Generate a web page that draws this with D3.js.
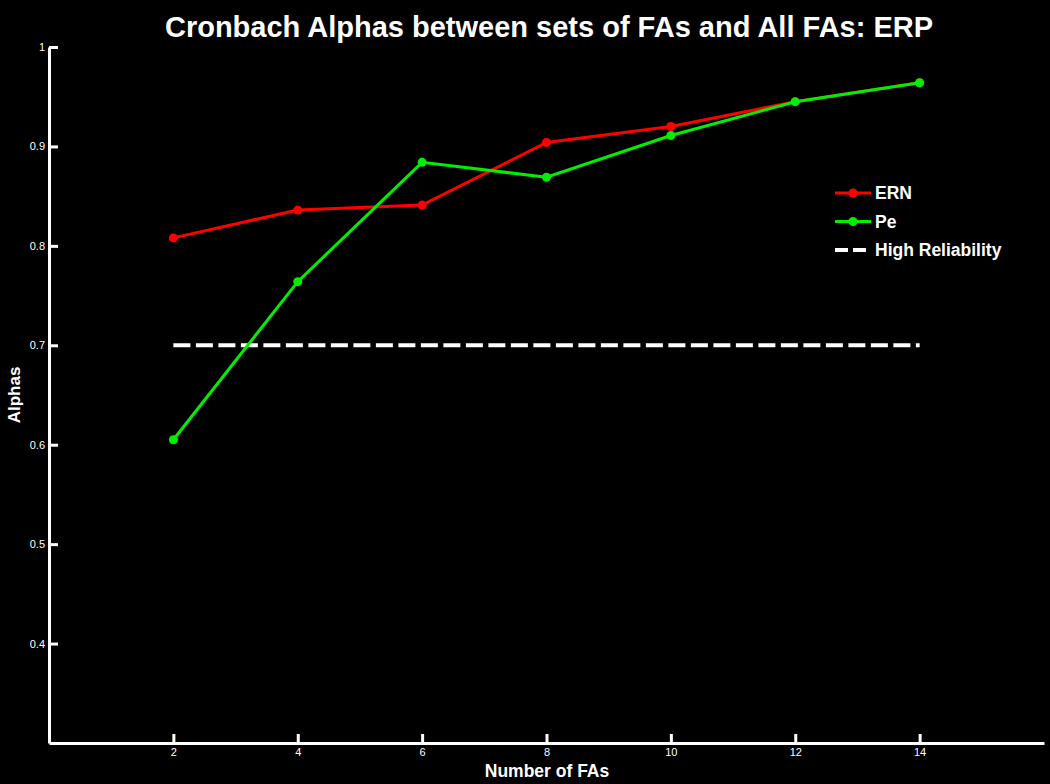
<!DOCTYPE html>
<html>
<head>
<meta charset="utf-8">
<script src="https://cdn.jsdelivr.net/npm/d3@7"></script>
<style>
  html, body { margin: 0; padding: 0; background: #000; }
  svg { display: block; }
  text { font-family: "Liberation Sans", Arial, sans-serif; fill: #fff; }
</style>
</head>
<body>
<script>
// Chart data
const nFAs = [2, 4, 6, 8, 10, 12, 14];
const ernAlphas = [0.808, 0.836, 0.841, 0.904, 0.920, 0.945, 0.964];
const peAlphas = [0.605, 0.764, 0.884, 0.869, 0.911, 0.945, 0.964];
const highReliability = 0.7;
const xTicks = [2, 4, 6, 8, 10, 12, 14];
const yTicks = [0.4, 0.5, 0.6, 0.7, 0.8, 0.9, 1];

const width = 1050, height = 784;

const svg = d3.select("body").append("svg")
    .attr("width", width)
    .attr("height", height);

svg.append("rect").attr("width", width).attr("height", height).attr("fill", "#000");

// Axis scales (x from 0 to 16, y from 0.3 to 1)
const x = d3.scaleLinear().domain([0, 16]).range([49, 1044]);
const y = d3.scaleLinear().domain([0.3, 1]).range([743, 47]);

// Axes with inward ticks, like a MATLAB plot
const xAxis = svg.append("g")
    .attr("transform", `translate(0,${y(0.3)})`)
    .call(d3.axisBottom(x).tickValues(xTicks).tickSizeInner(-9).tickSizeOuter(0)
        .tickFormat(d3.format("d")));
const yAxis = svg.append("g")
    .attr("transform", `translate(${x(0)},0)`)
    .call(d3.axisLeft(y).tickValues(yTicks).tickSizeInner(-9).tickSizeOuter(0)
        .tickFormat(d => d === 1 ? "1" : d3.format(".1f")(d)));

[xAxis, yAxis].forEach(g => {
    g.select(".domain").attr("stroke", "#fff").attr("stroke-width", 3);
    g.selectAll(".tick line").attr("stroke", "#fff").attr("stroke-width", 3);
    g.selectAll(".tick text").attr("fill", "#fff")
        .style("font-size", "11px").style("font-family", "Liberation Sans, Arial, sans-serif");
});
xAxis.selectAll(".tick text").attr("y", 5).attr("dy", "0.71em");
yAxis.selectAll(".tick text").attr("x", -4);

// High reliability dashed line
svg.append("line")
    .attr("x1", x(nFAs[0])).attr("x2", x(nFAs[nFAs.length - 1]))
    .attr("y1", y(highReliability)).attr("y2", y(highReliability))
    .attr("stroke", "#fff").attr("stroke-width", 4)
    .attr("stroke-dasharray", "17,5.5");

// Series lines with markers
const series = [
    { name: "ERN", values: ernAlphas, color: "#ff0000" },
    { name: "Pe", values: peAlphas, color: "#00ee00" }
];

const line = d3.line().x((d, i) => x(nFAs[i])).y(d => y(d));

series.forEach(s => {
    svg.append("path")
        .datum(s.values)
        .attr("d", line)
        .attr("fill", "none")
        .attr("stroke", s.color)
        .attr("stroke-width", 3);
    svg.append("g").selectAll("circle")
        .data(s.values)
        .join("circle")
        .attr("cx", (d, i) => x(nFAs[i]))
        .attr("cy", d => y(d))
        .attr("r", 4.5)
        .attr("fill", s.color);
});

// Legend
const legend = svg.append("g");
const legendItems = [
    { name: "ERN", color: "#ff0000", dashed: false },
    { name: "Pe", color: "#00ee00", dashed: false },
    { name: "High Reliability", color: "#fff", dashed: true }
];
legendItems.forEach((item, i) => {
    const ly = 193 + i * 28.5;
    legend.append("line")
        .attr("x1", 835).attr("x2", 871).attr("y1", ly).attr("y2", ly)
        .attr("stroke", item.color)
        .attr("stroke-width", item.dashed ? 4 : 3)
        .attr("stroke-dasharray", item.dashed ? "13,5" : null);
    if (!item.dashed) {
        legend.append("circle").attr("cx", 853).attr("cy", ly).attr("r", 4.5)
            .attr("fill", item.color);
    }
    legend.append("text")
        .attr("x", 875).attr("y", ly + 6)
        .style("font-size", "17.5px").style("font-weight", "bold")
        .text(item.name);
});

// Title and axis labels
svg.append("text")
    .attr("x", 549).attr("y", 37)
    .attr("text-anchor", "middle")
    .style("font-size", "29px").style("font-weight", "bold")
    .text("Cronbach Alphas between sets of FAs and All FAs: ERP");

svg.append("text")
    .attr("x", 547).attr("y", 777)
    .attr("text-anchor", "middle")
    .style("font-size", "17.5px").style("font-weight", "bold")
    .text("Number of FAs");

svg.append("text")
    .attr("transform", "translate(20,395) rotate(-90)")
    .attr("text-anchor", "middle")
    .style("font-size", "17px").style("font-weight", "bold")
    .text("Alphas");
</script>
</body>
</html>
